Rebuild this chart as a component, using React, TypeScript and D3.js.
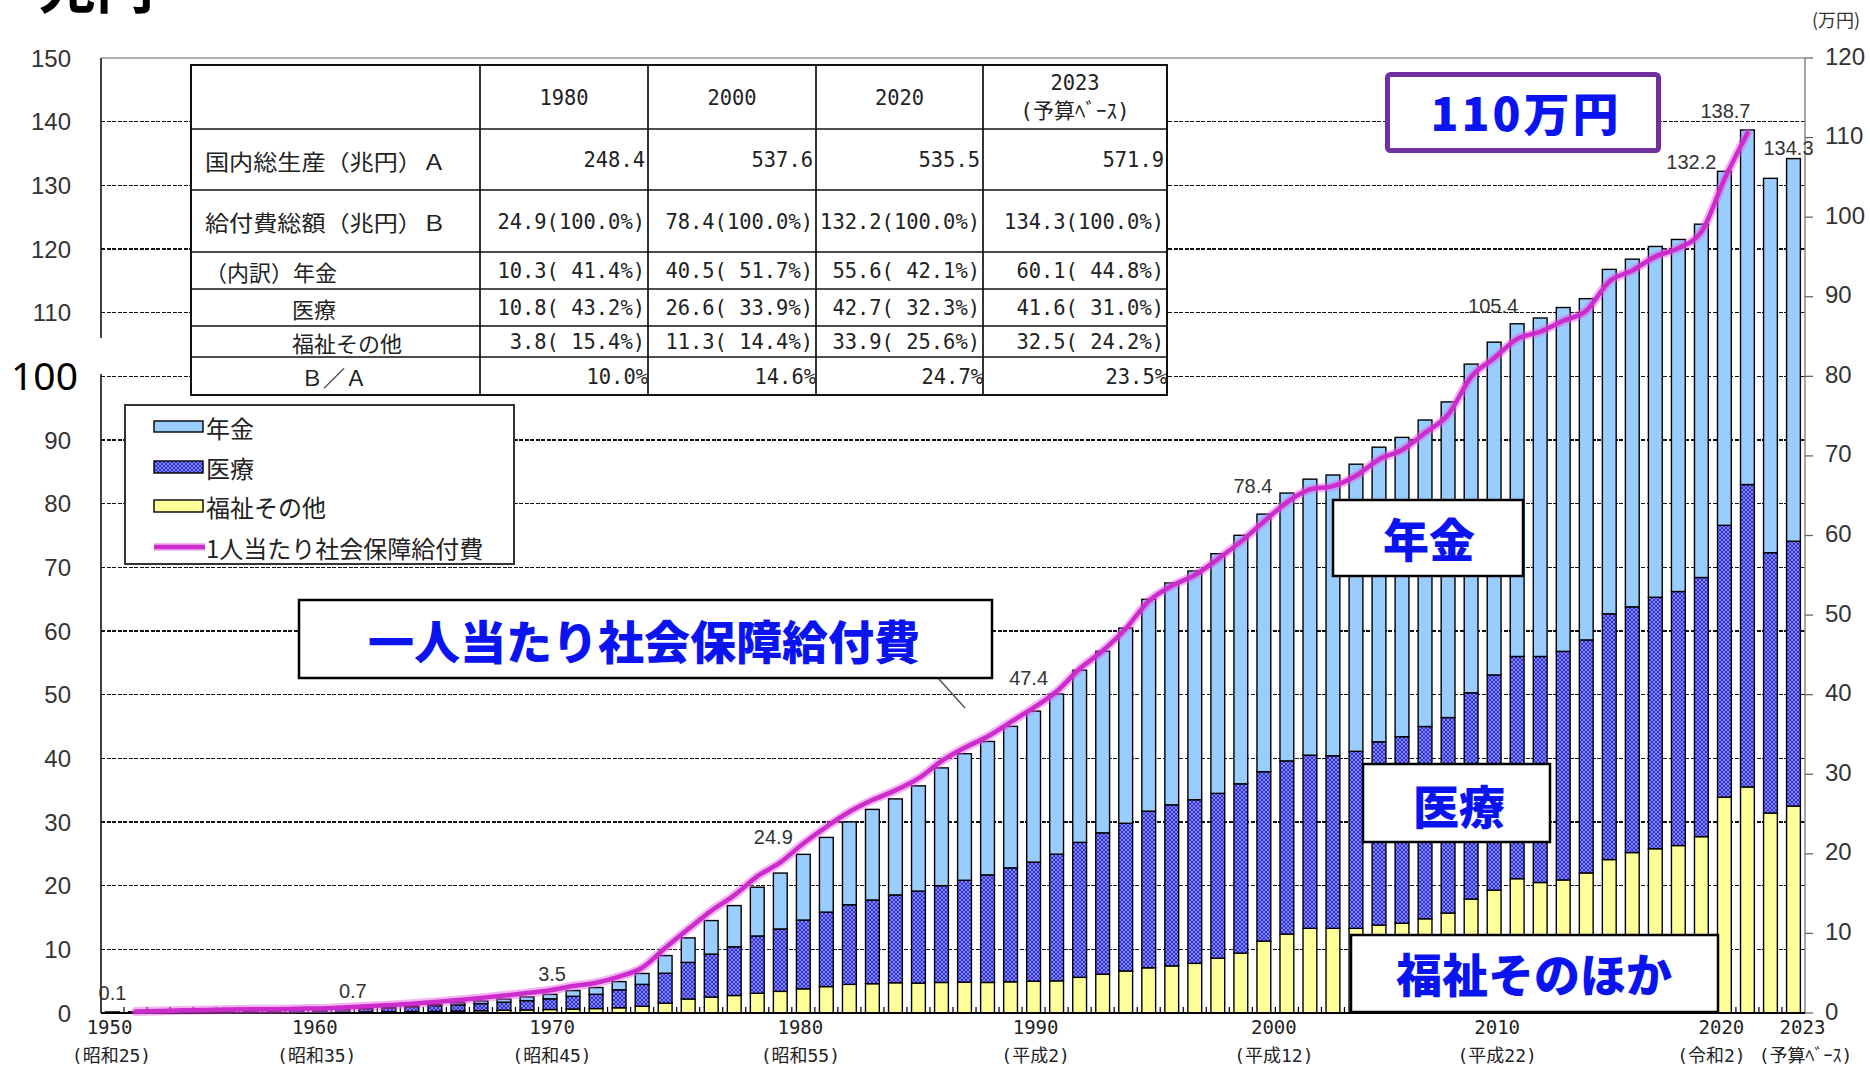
import React from "react";
import * as d3 from "d3";

// ---------------- data ----------------
const years: number[] = d3.range(1950, 2024);

// 兆円
const welfare = [
  0.06, 0.06, 0.07, 0.08, 0.09, 0.10, 0.10, 0.11, 0.12, 0.13,
  0.14, 0.16, 0.19, 0.22, 0.25, 0.30, 0.36, 0.42, 0.48, 0.55,
  0.62, 0.70, 0.82, 1.05, 1.55, 2.20, 2.50, 2.75, 3.10, 3.40,
  3.80, 4.15, 4.50, 4.60, 4.75, 4.70, 4.80, 4.85, 4.80, 4.90,
  5.00, 5.05, 5.60, 6.10, 6.60, 7.10, 7.40, 7.80, 8.60, 9.40,
  11.30, 12.40, 13.30, 13.30, 13.30, 13.80, 14.10, 14.80, 15.70, 17.90,
  19.30, 21.10, 20.50, 20.90, 22.00, 24.10, 25.20, 25.80, 26.30, 27.70,
  33.90, 35.50, 31.40, 32.50,
];
const medical = [
  0.06, 0.09, 0.14, 0.19, 0.22, 0.26, 0.27, 0.29, 0.32, 0.35,
  0.41, 0.51, 0.61, 0.74, 0.89, 0.98, 1.12, 1.28, 1.46, 1.68,
  2.00, 2.24, 2.83, 3.45, 4.70, 5.75, 6.75, 7.65, 9.00, 9.80,
  10.80, 11.70, 12.50, 13.15, 13.80, 14.45, 15.20, 16.00, 16.90, 17.90,
  18.70, 19.90, 21.20, 22.20, 23.20, 24.60, 25.30, 25.70, 25.90, 26.60,
  26.60, 27.20, 27.20, 27.10, 27.80, 28.80, 29.30, 30.20, 30.70, 32.40,
  33.80, 34.90, 35.50, 35.90, 36.60, 38.60, 38.60, 39.50, 39.90, 40.70,
  42.70, 47.50, 40.90, 41.60,
];
const pension = [
  0.01, 0.01, 0.01, 0.02, 0.02, 0.03, 0.04, 0.04, 0.05, 0.06,
  0.10, 0.12, 0.14, 0.16, 0.19, 0.32, 0.40, 0.49, 0.59, 0.69,
  0.90, 1.06, 1.28, 1.71, 2.77, 3.85, 5.27, 6.47, 7.66, 8.78,
  10.32, 11.73, 13.01, 14.23, 15.08, 16.53, 18.50, 19.88, 20.95, 22.22,
  23.72, 25.15, 27.04, 28.52, 30.67, 33.28, 34.85, 35.92, 37.64, 39.03,
  40.46, 42.07, 43.35, 44.10, 45.10, 46.27, 47.01, 48.14, 49.58, 51.62,
  52.27, 52.25, 53.16, 54.01, 53.60, 54.10, 54.60, 55.10, 55.30, 55.50,
  55.60, 55.70, 58.80, 60.10,
];

// 万円 (1人当たり)
const lineYears: number[] = d3.range(1951, 2022);
const perCapita = [
  0.19, 0.26, 0.33, 0.37, 0.43, 0.46, 0.48, 0.54, 0.58,
  0.70, 0.84, 0.99, 1.16, 1.37, 1.63, 1.90, 2.19, 2.50, 2.85,
  3.39, 3.80, 4.58, 5.69, 8.16, 10.54, 12.84, 14.78, 17.16, 18.92,
  21.29, 23.39, 25.28, 26.76, 27.97, 29.48, 31.65, 33.32, 34.74, 36.54,
  38.36, 40.40, 43.25, 45.51, 48.28, 51.75, 53.68, 55.02, 57.04, 59.23,
  61.74, 64.16, 65.80, 66.21, 67.50, 69.56, 70.76, 72.90, 75.17, 79.92,
  82.28, 84.71, 85.60, 86.98, 88.24, 91.90, 93.28, 95.04, 96.11, 98.16,
  104.75, 110.54,
];

const leftTicks = [0, 10, 20, 30, 40, 50, 60, 70, 80, 90, 110, 120, 130, 140, 150];
const gridTicks = [10, 20, 30, 40, 50, 60, 70, 80, 90, 100, 110, 120, 130, 140];
const rightTicks = [0, 10, 20, 30, 40, 50, 60, 70, 80, 90, 100, 110, 120];

const xLabelYears = [1950, 1960, 1970, 1980, 1990, 2000, 2010, 2020, 2023];
const xLabelEras = ["(昭和25)", "(昭和35)", "(昭和45)", "(昭和55)", "(平成2)", "(平成12)", "(平成22)", "(令和2)", "(予算ﾍﾞｰｽ)"];

const valueLabelYears = [1950, 1960, 1970, 1980, 1990, 2000, 2010, 2020, 2021, 2023];
const valueLabelTexts = ["0.1", "0.7", "3.5", "24.9", "47.4", "78.4", "105.4", "132.2", "138.7", "134.3"];

const legendLabels = ["年金", "医療", "福祉その他", "1人当たり社会保障給付費"];

const tableYears = ["1980", "2000", "2020", "2023"];
const rowLabels = ["国内総生産（兆円）Ａ", "給付費総額（兆円）Ｂ", "（内訳）年金", "医療", "福祉その他", "Ｂ／Ａ"];
const gdpRow = ["248.4", "537.6", "535.5", "571.9"];
const totalRow = ["24.9(100.0%)", "78.4(100.0%)", "132.2(100.0%)", "134.3(100.0%)"];
const pensionRow = ["10.3( 41.4%)", "40.5( 51.7%)", "55.6( 42.1%)", "60.1( 44.8%)"];
const medicalRow = ["10.8( 43.2%)", "26.6( 33.9%)", "42.7( 32.3%)", "41.6( 31.0%)"];
const welfareRow = ["3.8( 15.4%)", "11.3( 14.4%)", "33.9( 25.6%)", "32.5( 24.2%)"];
const ratioRow = ["10.0%", "14.6%", "24.7%", "23.5%"];

// ---------------- layout ----------------
const W = 1870, H = 1067;
const L = 101, R = 1805, T = 58, B = 1013;
const JP = "'Noto Sans CJK JP', sans-serif";
const SANS = "'Liberation Sans', Arial, sans-serif";
const MONO = "'DejaVu Sans Mono', 'Noto Sans CJK JP', monospace";
const BLUE_TXT = "#0a14f0";

const xNudge: Record<number, number> = { 1950: -3, 1960: -28, 1970: -21, 1980: -3, 1990: 2, 2000: 10, 2010: 3, 2020: -3, 2023: 9 };
const eraNudge: Record<number, number> = { 1950: -1, 1960: -26, 1970: -21, 1980: -3, 1990: 2, 2000: 10, 2010: 3, 2020: -13, 2023: 12 };
const valueNudge: Record<number, [number, number]> = {
  1950: [0, -19], 1960: [10, -18], 1970: [-21, -17], 1980: [-30, -17], 1990: [-5, -33],
  2000: [-11, -28], 2010: [-1, -36], 2020: [-33, -9], 2021: [-22, -19], 2023: [-5, -11],
};

const tableColX = [191, 480, 648, 816, 983, 1167];
const tableRowY = [65, 129, 190, 252, 289, 326, 357, 395];
const rowLabelX = [205, 205, 205, 292, 292, 301];
const rowLabelLen: (number | null)[] = [241, 241, null, null, null, null];
const MONO_CW = 12.3;

export default function App() {
  const x = d3.scaleBand<number>().domain(years).range([L, R]).paddingInner(0.4).paddingOuter(0.2);
  const yL = d3.scaleLinear().domain([0, 150]).range([B, T]);
  const yR = d3.scaleLinear().domain([0, 120]).range([B, T]);
  const cx = (yr: number) => (x(yr) as number) + x.bandwidth() / 2;

  const rows = years.map((yr, i) => ({ year: yr, welfare: welfare[i], medical: medical[i], pension: pension[i] }));
  const keys = ["welfare", "medical", "pension"];
  const fills: Record<string, string> = { welfare: "#ffff99", medical: "url(#medPat)", pension: "#99ccff" };
  const stacked = d3.stack<any>().keys(keys)(rows);
  const totals = years.map((_, i) => welfare[i] + medical[i] + pension[i]);

  const linePath = d3
    .line<number>()
    .x((_, i) => cx(lineYears[i]))
    .y((d) => yR(d))
    .curve(d3.curveMonotoneX)(perCapita) as string;

  const dataRows = [gdpRow, totalRow, pensionRow, medicalRow, welfareRow, ratioRow];

  return (
    <svg width={W} height={H} style={{ position: "absolute", left: 0, top: 0, background: "#fff" }}>
      <defs>
        <pattern id="medPat" width="4" height="4" patternUnits="userSpaceOnUse">
          <rect width="4" height="4" fill="#3232dc" />
          <path d="M0,0 L4,4 M4,0 L0,4" stroke="#9ea2ff" strokeWidth="0.75" />
        </pattern>
      </defs>
      <rect x={0} y={0} width={W} height={H} fill="#fff" />

      {/* top-left cut title */}
      <text x={38} y={8} fontFamily={JP} fontWeight={700} fontSize={58} fill="#000">兆円</text>
      <text x={1836} y={27} textAnchor="middle" fontFamily={JP} fontSize={18} fill="#333">(万円)</text>

      {/* gridlines */}
      {gridTicks.map((t) => (
        <line key={"g" + t} x1={L} x2={R} y1={yL(t)} y2={yL(t)} stroke="#111" strokeWidth={1.4} strokeDasharray="4 1.5" shapeRendering="crispEdges" />
      ))}
      <line x1={L} x2={R} y1={T} y2={T} stroke="#999" strokeWidth={1.5} />

      {/* bars */}
      {stacked.map((s) => (
        <g key={s.key}>
          {s.map((d: any, i: number) => (
            <rect
              key={i}
              x={x(years[i]) as number}
              y={yL(d[1])}
              width={x.bandwidth()}
              height={Math.max(0, yL(d[0]) - yL(d[1]))}
              fill={fills[s.key]}
              stroke="#000"
              strokeWidth={1.4}
            />
          ))}
        </g>
      ))}

      {/* x ticks between bars */}
      {years.slice(0, -1).map((yr) => {
        const xx = cx(yr) + x.step() / 2;
        return <line key={"xt" + yr} x1={xx} x2={xx} y1={B} y2={B - 6} stroke="#000" strokeWidth={1.2} />;
      })}

      {/* axes */}
      <line x1={L} x2={L} y1={T} y2={B} stroke="#000" strokeWidth={1.5} />
      <line x1={R} x2={R} y1={T} y2={B} stroke="#888" strokeWidth={1.5} />
      <line x1={L} x2={R} y1={B} y2={B} stroke="#000" strokeWidth={2} />

      {leftTicks.map((t) => (
        <text key={"lt" + t} x={71} y={yL(t)} textAnchor="end" dominantBaseline="central" fontFamily={SANS} fontSize={24} fill="#333">{t}</text>
      ))}
      {rightTicks.map((t) => (
        <g key={"rt" + t}>
          <line x1={R} x2={R + 8} y1={yR(t)} y2={yR(t)} stroke="#666" strokeWidth={1.3} />
          <text x={1825} y={yR(t) - 2} dominantBaseline="central" fontFamily={SANS} fontSize={24} fill="#333">{t}</text>
        </g>
      ))}

      {/* white patch + pasted big 100 label */}
      <rect x={0} y={338} width={103} height={36} fill="#fff" />
      <text x={78} y={390} textAnchor="end" fontFamily="'Noto Sans', sans-serif" fontSize={39} fill="#000">100</text>

      {/* x labels */}
      {xLabelYears.map((yr, i) => (
        <g key={"xl" + yr}>
          <text x={cx(yr) + xNudge[yr]} y={1034} textAnchor="middle" fontFamily={MONO} fontSize={19} fill="#222">{yr}</text>
          <text x={cx(yr) + eraNudge[yr]} y={1062} textAnchor="middle" fontFamily={MONO} fontSize={18} fill="#222">{xLabelEras[i]}</text>
        </g>
      ))}

      {/* per-capita line */}
      <path d={linePath} fill="none" stroke="rgba(226,90,226,0.45)" strokeWidth={9} strokeLinecap="round" strokeLinejoin="round" />
      <path d={linePath} fill="none" stroke="#cc2ccc" strokeWidth={4.5} strokeLinecap="round" strokeLinejoin="round" />

      {/* value labels */}
      {valueLabelYears.map((yr, i) => {
        const idx = years.indexOf(yr);
        const [dx, dy] = valueNudge[yr];
        return (
          <text key={"vl" + yr} x={cx(yr) + dx} y={yL(totals[idx]) + dy} textAnchor="middle" dominantBaseline="central" fontFamily={SANS} fontSize={20} fill="#333">
            {valueLabelTexts[i]}
          </text>
        );
      })}

      {/* table */}
      <rect x={tableColX[0]} y={tableRowY[0]} width={tableColX[5] - tableColX[0]} height={tableRowY[7] - tableRowY[0]} fill="#fff" stroke="#111" strokeWidth={2} />
      {tableRowY.slice(1, -1).map((yy) => (
        <line key={"tr" + yy} x1={tableColX[0]} x2={tableColX[5]} y1={yy} y2={yy} stroke="#111" strokeWidth={1.7} />
      ))}
      {tableColX.slice(1, -1).map((xx) => (
        <line key={"tc" + xx} x1={xx} x2={xx} y1={tableRowY[0]} y2={tableRowY[7]} stroke="#111" strokeWidth={1.7} />
      ))}
      {tableYears.map((ty, c) => {
        const mid = (tableColX[c + 1] + tableColX[c + 2]) / 2;
        const isLast = c === tableYears.length - 1;
        return (
          <g key={"th" + ty}>
            <text x={mid} y={isLast ? 82 : 97} textAnchor="middle" dominantBaseline="central" fontFamily={MONO} fontSize={22} fill="#222" textLength={ty.length * MONO_CW} lengthAdjust="spacingAndGlyphs">{ty}</text>
            {isLast && (
              <text x={mid} y={111} textAnchor="middle" dominantBaseline="central" fontFamily={MONO} fontSize={21} fill="#222">(予算ﾍﾞｰｽ)</text>
            )}
          </g>
        );
      })}
      {rowLabels.map((lab, r) => {
        const yy = (tableRowY[r + 1] + tableRowY[r + 2]) / 2;
        const len = rowLabelLen[r];
        return (
          <text key={"rl" + r} x={rowLabelX[r]} y={yy} dominantBaseline="central" fontFamily={JP} fontSize={22} fill="#222"
            {...(len ? { textLength: len, lengthAdjust: "spacingAndGlyphs" } : {})}>{lab}</text>
        );
      })}
      {dataRows.map((row, r) =>
        row.map((val, c) => {
          const yy = (tableRowY[r + 1] + tableRowY[r + 2]) / 2;
          const right = tableColX[c + 2] - (r === 5 ? 0 : 3);
          const len = val.length * MONO_CW;
          return (
            <text key={"d" + r + "_" + c} x={right - len} y={yy} dominantBaseline="central" fontFamily={MONO} fontSize={22} fill="#222" textLength={len} lengthAdjust="spacingAndGlyphs" xmlSpace="preserve" style={{ whiteSpace: "pre" }}>
              {val}
            </text>
          );
        })
      )}

      {/* legend */}
      <rect x={125} y={405} width={389} height={159} fill="#fff" stroke="#333" strokeWidth={2} />
      <rect x={154} y={421} width={49} height={11} fill="#99ccff" stroke="#000" strokeWidth={1.4} />
      <rect x={154} y={461} width={49} height={12} fill="url(#medPat)" stroke="#000" strokeWidth={1.4} />
      <rect x={154} y={500} width={49} height={12} fill="#ffff99" stroke="#000" strokeWidth={1.4} />
      <line x1={154} x2={205} y1={547} y2={547} stroke="rgba(226,90,226,0.45)" strokeWidth={8} />
      <line x1={154} x2={205} y1={547} y2={547} stroke="#cc2ccc" strokeWidth={4.5} />
      {legendLabels.map((lab, i) => (
        <text key={"lg" + i} x={206} y={[427, 467, 506, 547][i]} dominantBaseline="central" fontFamily={JP} fontSize={24} fill="#222">{lab}</text>
      ))}

      {/* annotation: 一人当たり */}
      <line x1={938} y1={678} x2={965} y2={708} stroke="#555" strokeWidth={1.5} />
      <rect x={299} y={600} width={693} height={78} fill="#fff" stroke="#000" strokeWidth={2.5} />
      <text x={644} y={639} textAnchor="middle" dominantBaseline="central" fontFamily={JP} fontWeight={900} fontSize={46} fill={BLUE_TXT}>一人当たり社会保障給付費</text>

      {/* annotation boxes */}
      <rect x={1333} y={500} width={190} height={76} fill="#fff" stroke="#000" strokeWidth={2.5} />
      <text x={1429} y={537} textAnchor="middle" dominantBaseline="central" fontFamily={JP} fontWeight={900} fontSize={46} fill={BLUE_TXT}>年金</text>

      <rect x={1363} y={764} width={187} height={78} fill="#fff" stroke="#000" strokeWidth={2.5} />
      <text x={1459} y={804} textAnchor="middle" dominantBaseline="central" fontFamily={JP} fontWeight={900} fontSize={46} fill={BLUE_TXT}>医療</text>

      <rect x={1351} y={935} width={367} height={77} fill="#fff" stroke="#000" strokeWidth={2.5} />
      <text x={1534} y={972} textAnchor="middle" dominantBaseline="central" fontFamily={JP} fontWeight={900} fontSize={46} fill={BLUE_TXT}>福祉そのほか</text>

      <rect x={1387.5} y={74.5} width={271} height={76} rx={3} fill="#fff" stroke="#7030a0" strokeWidth={5} />
      <text x={1526} y={111} textAnchor="middle" dominantBaseline="central" fontFamily={JP} fontWeight={900} fontSize={46} letterSpacing={3} fill={BLUE_TXT}>110万円</text>
    </svg>
  );
}
